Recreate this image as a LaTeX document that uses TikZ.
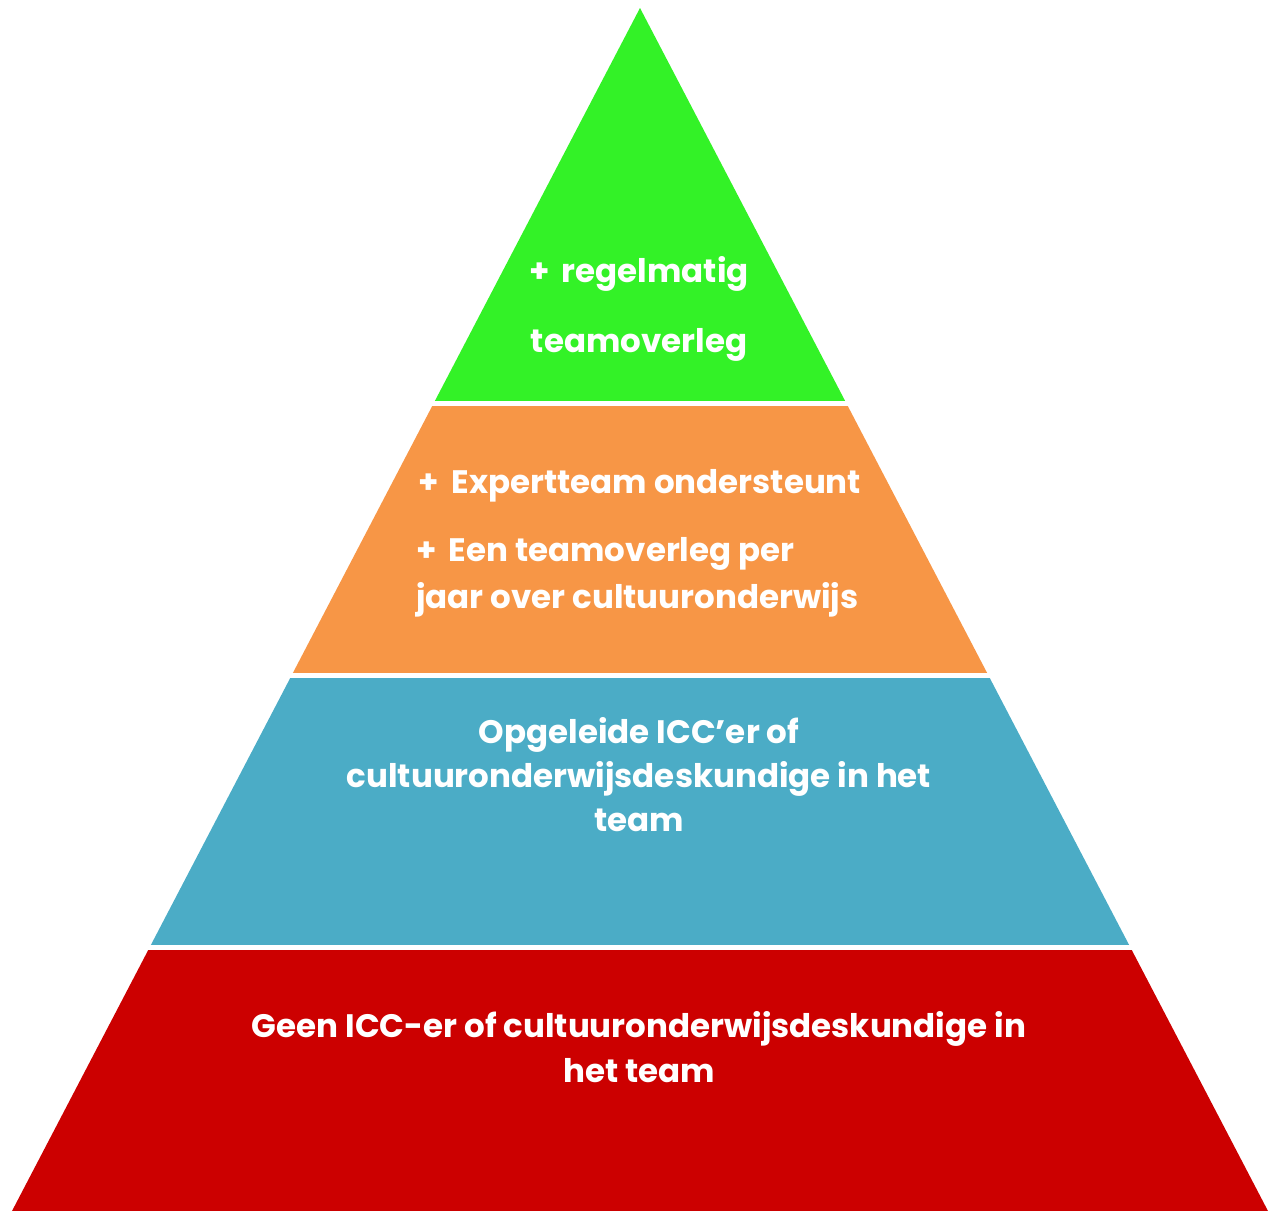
\documentclass[tikz,border=0pt]{standalone}
\usepackage{fontspec}
\setmainfont{Poppins}
\usetikzlibrary{positioning}
\definecolor{topgreen}{RGB}{51,242,39}
\definecolor{midorange}{RGB}{247,150,70}
\definecolor{midblue}{RGB}{75,172,198}
\definecolor{basered}{RGB}{204,0,0}
\begin{document}
\begin{tikzpicture}[x=1pt,y=-1pt,
    lbl/.style={text=white,font=\fontsize{32.5}{44}\selectfont\bfseries,inner sep=0pt,anchor=base},
    lblleft/.style={lbl,anchor=base west}]
  \useasboundingbox (0,0) rectangle (1277,1211);
  % pyramid bands, cut out of one triangle
  \begin{scope}
    \clip (640,8) -- (1268,1211) -- (12,1211) -- cycle;
    \fill[topgreen]  (0,0)   rectangle (1277,401);
    \fill[midorange] (0,406) rectangle (1277,673);
    \fill[midblue]   (0,678) rectangle (1277,945);
    \fill[basered]   (0,950) rectangle (1277,1211);
  \end{scope}
  % top band
  \node[lbl] (green1) at (639,282) {+\ \,regelmatig};
  \node[lbl] (green2) at (639,352) {teamoverleg};
  % second band
  \node[lbl] (orange1) at (640,493) {+\ \,Expertteam ondersteunt};
  \node[lblleft] (orange2) at (416,561) {+\ \,Een teamoverleg per};
  \node[lblleft] (orange3) at (416,608) {jaar over cultuuronderwijs};
  % third band
  \node[lbl] (blue1) at (639,743) {Opgeleide ICC’er of};
  \node[lbl] (blue2) at (639,787) {cultuuronderwijsdeskundige in het};
  \node[lbl] (blue3) at (639,831) {team};
  % base band
  \node[lbl] (red1) at (639,1037) {Geen ICC-er of cultuuronderwijsdeskundige in};
  \node[lbl] (red2) at (639,1082) {het team};
\end{tikzpicture}
\end{document}
